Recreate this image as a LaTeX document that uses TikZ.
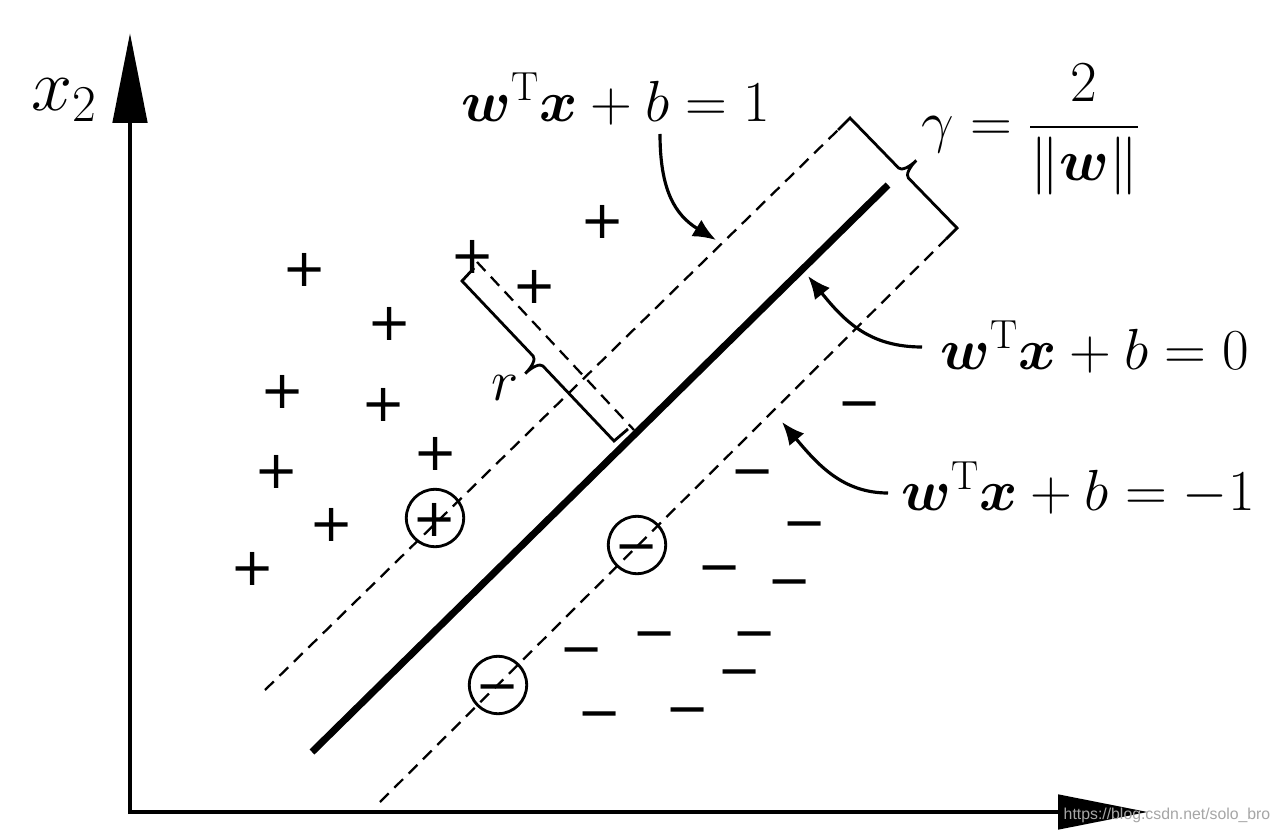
\RequirePackage{fix-cm}
\documentclass[tikz,border=0pt]{standalone}
\usepackage{amsmath}
\usepackage{fontspec}
\newfontfamily\urlfont{Liberation Sans}
\newfontfamily\symbfont{DejaVu Sans}
\usetikzlibrary{arrows.meta}

\begin{document}
\begin{tikzpicture}[x=0.02cm, y=-0.02cm,
    axisline/.style={line width=2.8pt, -{Triangle[length=1.8cm, width=0.68cm]}},
    hyper/.style={line width=4pt},
    marginline/.style={line width=1.3pt, dash pattern=on 7pt off 4.5pt},
    bracket/.style={line width=1.6pt, line join=miter},
    pointer/.style={line width=1.8pt, -{Latex[length=13pt, width=11pt]}},
    eqn/.style={font=\fontsize{33}{40}\selectfont, inner sep=0pt},
    possym/.style={font=\symbfont\fontsize{30}{36}\selectfont, inner sep=0pt, anchor=base, yshift=-10.5pt},
    sv/.style={draw, circle, line width=1.6pt, minimum size=1cm, inner sep=0pt,
               font=\symbfont\fontsize{30}{36}\selectfont, text height=21pt, text depth=0pt}]

      \fill[white] (0,0) rectangle (1280,834);
      \useasboundingbox (0,0) rectangle (1280,834);

      % axes
      \coordinate (o) at (130,814);
      \coordinate (x2end) at (130,33);
      \coordinate (x1end) at (1148,812);
      \draw[axisline] (o) -- (x2end);
      \draw[axisline] (128,812) -- (x1end);
      \node[font=\fontsize{42}{50}\selectfont, inner sep=0pt] (lx2) at (64,100) {$x_2$};

      % hyperplane and margins
      \coordinate (h0a) at (312,752);
      \coordinate (h0b) at (888,185);
      \coordinate (hpa) at (265,690);
      \coordinate (hpb) at (838,130);
      \coordinate (hna) at (380,802);
      \coordinate (hnb) at (946,239);
      \draw[hyper] (h0a) -- (h0b);
      \draw[marginline] (hpa) -- (hpb);
      \draw[marginline] (hna) -- (hnb);

      % positive samples
      \foreach \px/\py [count=\i] in {305/268, 603/220, 473/255, 535/285, 390/322, 283/390,
                                       384/403, 436/452, 277/470, 332/523, 253/567}
        \node[possym] (p\i) at (\px,\py) {+};

      % negative samples
      \foreach \px/\py [count=\i] in {860/402, 753/470, 805/522, 720/566, 790/580, 582/648,
                                       655/632, 755/632, 740/670, 600/712, 688/708}
        \node[possym] (n\i) at (\px,\py) {−};

      % support vectors
      \node[sv] (sp1) at (435,518) {+};
      \node[sv] (sn1) at (637,545) {−};
      \node[sv] (sn2) at (498,685) {−};

      % distance r
      \coordinate (rtop) at (477,262);
      \coordinate (rfoot) at (634,430);
      \draw[marginline] (rtop) -- (rfoot);
      \draw[bracket] (474,268) -- (462,281) -- (533.1,356.0)
        .. controls (535.9,358.9) and (532.3,366.6) .. (525.2,373.6)
        .. controls (532.3,366.6) and (540.1,363.2) .. (542.9,366.0)
        -- (614,441) -- (628,429);
      \node[eqn] (lr) at (505,388) {$r$};

      % margin gamma
      \draw[bracket] (hpb) -- (850,118) -- (898.6,168.0)
        .. controls (901.4,170.9) and (909.2,167.4) .. (916.3,160.4)
        .. controls (909.2,167.4) and (905.6,175.1) .. (908.4,178.0)
        -- (957,228) -- (hnb);
      \node[eqn] (lg) at (1031,130) {$\gamma=\dfrac{2}{\|\boldsymbol{w}\|}$};

      % equations
      \node[eqn] (lp) at (616,99) {$\boldsymbol{w}^{\mathrm{T}}\boldsymbol{x}+b=1$};
      \node[eqn] (l0) at (1095,347) {$\boldsymbol{w}^{\mathrm{T}}\boldsymbol{x}+b=0$};
      \node[eqn] (ln) at (1078,489) {$\boldsymbol{w}^{\mathrm{T}}\boldsymbol{x}+b=-1$};

      \coordinate (ap) at (660,134);
      \coordinate (tp) at (716,240);
      \coordinate (a0) at (922,347);
      \coordinate (t0) at (808,276);
      \coordinate (an) at (888,493);
      \coordinate (tn) at (782,422);
      \draw[pointer] (ap) .. controls (660,190) and (675,215) .. (tp);
      \draw[pointer] (a0) .. controls (870,347) and (845,322) .. (t0);
      \draw[pointer] (an) .. controls (843,493) and (818,465) .. (tn);

      \node[font=\urlfont\fontsize{9}{11}\selectfont, text=black!35, inner sep=0pt] (wm) at (1167,815) {https://blog.csdn.net/solo\_bro};

    \end{tikzpicture}
\end{document}
